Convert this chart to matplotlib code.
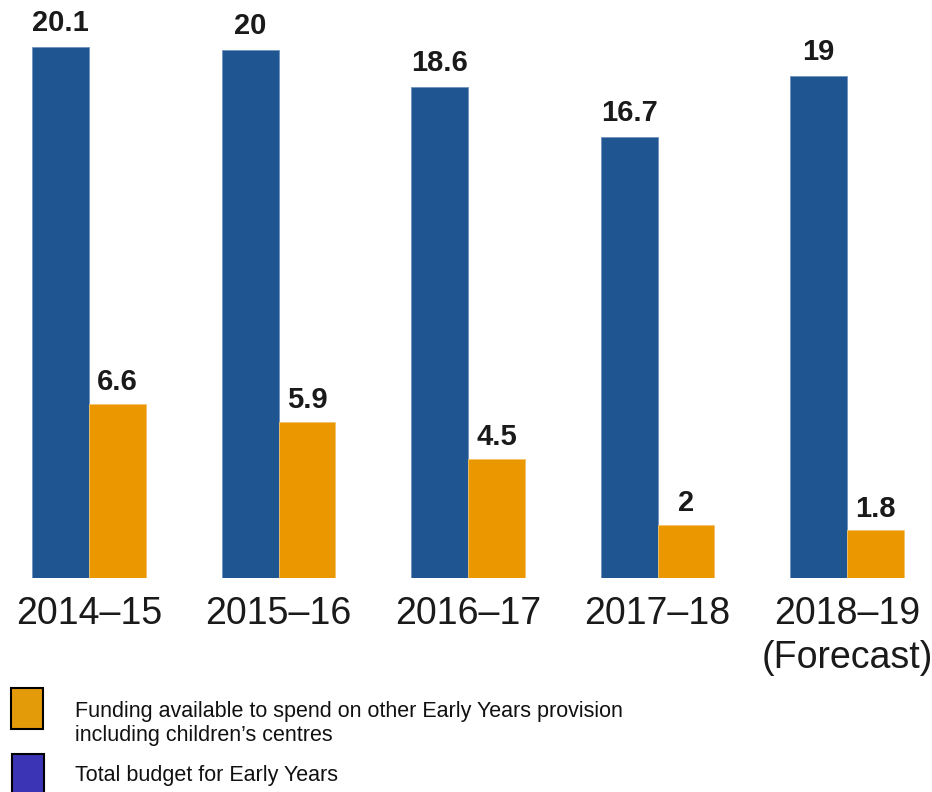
import matplotlib
matplotlib.use("Agg")
import matplotlib.pyplot as plt
from matplotlib.patches import Rectangle

plt.rcParams['font.family'] = ['Liberation Sans', 'DejaVu Sans']

# data
years = ["2014–15", "2015–16", "2016–17", "2017–18", "2018–19\n(Forecast)"]
total_budget = [20.1, 20, 18.6, 16.7, 19]
other_funding = [6.6, 5.9, 4.5, 2, 1.8]
total_labels = ["20.1", "20", "18.6", "16.7", "19"]
other_labels = ["6.6", "5.9", "4.5", "2", "1.8"]

W, H = 932, 792
fig = plt.figure(figsize=(W / 100, H / 100), dpi=100)

# axes: baseline at y=578px, 26.4 px per unit, groups 189.5 px apart
base = 578
ax = fig.add_axes([0, (H - base) / H, 1, base / H])
x = list(range(len(years)))
bw = 0.30
blue = "#1f5590"
orange = "#ea9700"

ax.bar([i - bw / 2 for i in x], total_budget, width=bw, color=blue,
       edgecolor="#6f93bd", linewidth=0.6)
ax.bar([i + bw / 2 for i in x], other_funding, width=bw, color=orange,
       edgecolor="#f3c36a", linewidth=0.6)

for i in x:
    ax.text(i - bw / 2, total_budget[i] + 0.38, total_labels[i], ha="center", va="bottom",
            fontsize=21, fontweight="bold", color="#1a1a1a")
    ax.text(i + bw / 2, other_funding[i] + 0.30, other_labels[i], ha="center", va="bottom",
            fontsize=21, fontweight="bold", color="#1a1a1a")

ax.set_xlim(-89 / 189.5, (W - 89) / 189.5)
ax.set_ylim(0, base / 26.4)
ax.set_xticks(x)
ax.set_xticklabels(years, fontsize=27, color="#1a1a1a", linespacing=1.3)
ax.tick_params(axis="x", length=0, pad=13)
ax.set_yticks([])
for s in ax.spines.values():
    s.set_visible(False)

# legend drawn by hand
def px_rect(x0, y0, w, h, color):
    fig.add_artist(Rectangle((x0 / W, 1 - (y0 + h) / H), w / W, h / H,
                             transform=fig.transFigure, facecolor=color,
                             edgecolor="black", linewidth=1.5, clip_on=True))

px_rect(11, 688, 32, 41, "#e39b0a")
px_rect(12, 754, 32, 48, "#3b35b5")

fig.text(75 / W, 1 - 712 / H, "Funding available to spend on other Early Years provision",
         fontsize=15.5, va="center", ha="left", color="#111111")
fig.text(75 / W, 1 - 736 / H, "including children’s centres",
         fontsize=15.5, va="center", ha="left", color="#111111")
fig.text(75 / W, 1 - 775 / H, "Total budget for Early Years",
         fontsize=15.5, va="center", ha="left", color="#111111")

fig.savefig("out.png", dpi=100)
